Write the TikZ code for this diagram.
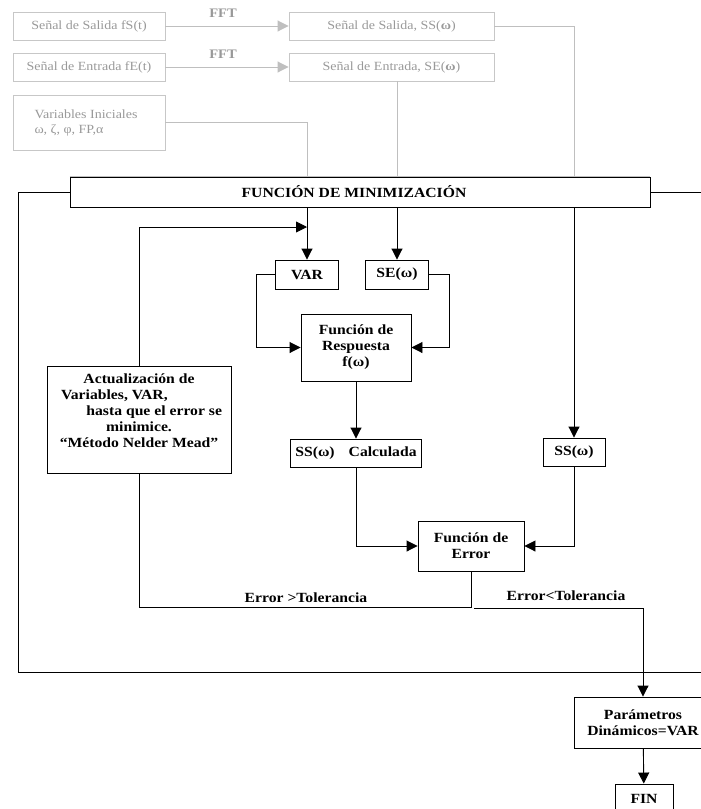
\documentclass[tikz,border=0pt]{standalone}
\usepackage{fontspec}
\setmainfont{Liberation Serif}[FakeStretch=1.12]
\usetikzlibrary{arrows.meta}

\tikzset{
  box/.style={draw=black, line width=0.9pt, font=\fontsize{14}{16}\selectfont\bfseries, align=center, inner sep=0pt},
  faded/.style={draw=black!22, line width=0.9pt, text=black!40, font=\fontsize{12.5}{15}\selectfont, align=center, inner sep=0pt},
  fftlabel/.style={text=black!40, font=\fontsize{13}{15}\selectfont\bfseries},
  arr/.style={-{Triangle[length=11pt,width=11pt]}},
}

\begin{document}
\begin{tikzpicture}[x=1pt, y=-1pt, line width=0.9pt]
    \useasboundingbox (0,0) rectangle (701,809);
    \clip (0,0) rectangle (701,809);

    \node[faded, minimum width=152pt, minimum height=28pt] (fs) at (89,26) {Señal de Salida fS(t)};
    \node[faded, minimum width=152pt, minimum height=28pt] (fe) at (89,67) {Señal de Entrada fE(t)};
    \node[faded, minimum width=152pt, minimum height=55pt, align=left] (vi) at (89,122.5) {Variables Iniciales\\ω, ζ, φ, FP,α\hspace*{40pt}};
    \node[faded, minimum width=205pt, minimum height=28pt] (ss) at (391.5,26) {Señal de Salida, SS(\textbf{ω})};
    \node[faded, minimum width=205pt, minimum height=28pt] (se) at (391.5,67) {Señal de Entrada, SE(\textbf{ω})};
    \node[fftlabel] (fft1) at (223,13) {FFT};
    \node[fftlabel] (fft2) at (223,54) {FFT};

    \node[box, minimum width=580pt, minimum height=30pt] (min) at (360,192) {FUNCIÓN DE MINIMIZACIÓN\hspace*{12pt}};
    \node[box, minimum width=63pt, minimum height=29pt] (var) at (307,274.5) {VAR};
    \node[box, minimum width=63pt, minimum height=29pt] (sew) at (397,274.5) {SE(ω)};
    \node[box, minimum width=110pt, minimum height=67pt] (resp) at (356,347.5) {Función de\\Respuesta\\f(ω)};
    \node[box, minimum width=131pt, minimum height=28pt] (calc) at (356,453) {SS(ω)\quad Calculada};
    \node[box, minimum width=62pt, minimum height=28pt] (ssw) at (574,452) {SS(ω)};
    \node[box, minimum width=184pt, minimum height=107pt] (act) at (139,419.5) {Actualización de\\\makebox[170pt][l]{\hspace*{7pt}Variables, VAR,}\\\makebox[170pt][r]{hasta que el error se\hspace*{2pt}}\\minimice.\\“Método Nelder Mead”\\[1pt]};
    \node[box, minimum width=106pt, minimum height=50pt] (err) at (471,546) {Función de\\Error};
    \node[box, minimum width=138pt, minimum height=51pt] (par) at (643,722.5) {Parámetros\\Dinámicos=VAR};
    \node[box, minimum width=58pt, minimum height=30pt] (fin) at (644,799) {FIN};

    \node[box, draw=none] (gtl) at (306,598) {Error >Tolerancia};
    \node[box, draw=none] (ltl) at (566,596) {Error<Tolerancia};

    \coordinate (varin) at (307,227);
    \coordinate (gt) at (471,607);
    \coordinate (lt) at (474,608);
    \coordinate (lb) at (18,672);
    \coordinate (rb) at (705,672);
    \coordinate (rt) at (705,192);

    \draw[black!25, arr] (fs) -- (ss);
    \draw[black!25, arr] (fe) -- (se);
    \draw[black!25] (ss.east) -| (min.north -| ssw);
    \draw[black!25] (se.south -| sew) -- (min.north -| sew);
    \draw[black!25] (vi.east) -| (min.north -| var);
    \draw[black!25] (min.north west) -- (min.north east);

    \draw (min.west) -| (lb) -- (rb);
    \draw (min.east) -- (rt);
    \draw[arr] (min.south -| var) -- (var);
    \draw[arr] (min.south -| sew) -- (sew);
    \draw[arr] (min.south -| ssw) -- (ssw);
    \draw[arr] (act.north) |- (varin);
    \draw[arr] (var.west) -- ++(-19,0) |- (resp.west);
    \draw[arr] (sew.east) -- ++(20,0) |- (resp.east);
    \draw[arr] (resp) -- (calc);
    \draw[arr] (calc.south) |- (err.west);
    \draw[arr] (ssw.south) |- (err.east);
    \draw (act.south) |- (gt) -- (err.south);
    \draw[arr] (lt) -| (par.north);
    \draw[arr] (par) -- (fin);
  \end{tikzpicture}
\end{document}
